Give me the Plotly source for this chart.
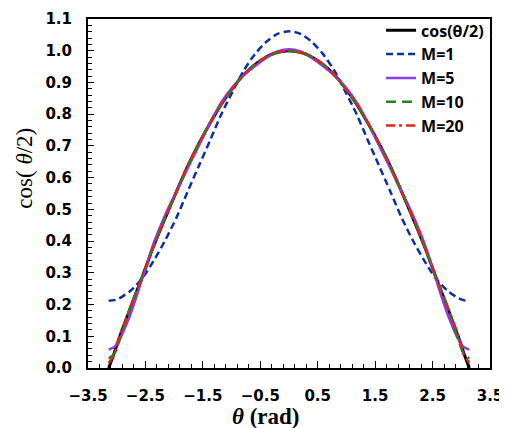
import plotly.graph_objects as go

# theta grid (rad)
theta = [-3.14, -3.04, -2.95, -2.75, -2.55, -2.36, -2.16, -1.96, -1.77, -1.57, -1.37, -1.18,
         -0.98, -0.79, -0.59, -0.39, -0.20, 0.00, 0.20, 0.39, 0.59, 0.79, 0.98, 1.18, 1.37,
         1.57, 1.77, 1.96, 2.16, 2.36, 2.55, 2.75, 2.95, 3.04, 3.14]

cos_half = [0.000, 0.049, 0.098, 0.195, 0.290, 0.383, 0.471, 0.556, 0.634, 0.707, 0.773, 0.831,
            0.882, 0.924, 0.957, 0.981, 0.995, 1.000, 0.995, 0.981, 0.957, 0.924, 0.882, 0.831,
            0.773, 0.707, 0.634, 0.556, 0.471, 0.383, 0.290, 0.195, 0.098, 0.049, 0.000]

m1 = [0.212, 0.214, 0.220, 0.245, 0.284, 0.337, 0.401, 0.474, 0.554, 0.637, 0.719, 0.799,
      0.872, 0.937, 0.990, 1.029, 1.053, 1.061, 1.053, 1.029, 0.990, 0.937, 0.872, 0.799,
      0.719, 0.637, 0.554, 0.474, 0.401, 0.337, 0.284, 0.245, 0.220, 0.214, 0.212]

m5 = [0.058, 0.066, 0.090, 0.175, 0.285, 0.392, 0.481, 0.556, 0.627, 0.701, 0.774, 0.837,
      0.886, 0.922, 0.952, 0.978, 0.998, 1.005, 0.998, 0.978, 0.952, 0.922, 0.886, 0.837,
      0.774, 0.701, 0.627, 0.556, 0.481, 0.392, 0.285, 0.175, 0.090, 0.066, 0.058]

m10 = [0.030, 0.046, 0.088, 0.199, 0.289, 0.382, 0.472, 0.556, 0.633, 0.707, 0.774, 0.831,
       0.881, 0.924, 0.958, 0.981, 0.994, 0.999, 0.994, 0.981, 0.958, 0.924, 0.881, 0.831,
       0.774, 0.707, 0.633, 0.556, 0.472, 0.382, 0.289, 0.199, 0.088, 0.046, 0.030]

m20 = [0.016, 0.044, 0.100, 0.195, 0.290, 0.383, 0.471, 0.556, 0.634, 0.707, 0.773, 0.831,
       0.882, 0.924, 0.957, 0.981, 0.995, 1.000, 0.995, 0.981, 0.957, 0.924, 0.882, 0.831,
       0.773, 0.707, 0.634, 0.556, 0.471, 0.383, 0.290, 0.195, 0.100, 0.044, 0.016]

series = [
    ("cos(θ/2)", cos_half, "#000000", "solid", 3),
    ("M=1", m1, "#0b2fa6", "7px,4px", 2.5),
    ("M=5", m5, "#8a3cf2", "solid", 2.5),
    ("M=10", m10, "#1b8a1b", "10px,6px", 2.5),
    ("M=20", m20, "#e2231a", "9px,4px,3px,4px", 2.5),
]

fig = go.Figure()
for name, vals, color, dash, w in series:
    fig.add_trace(go.Scatter(x=theta, y=vals, mode="lines", name=name,
                             line=dict(color=color, dash=dash, width=w, shape="spline", smoothing=0.8)))

tickfont = dict(family="DejaVu Sans", size=15, color="black", weight="bold")

fig.update_layout(
    width=499, height=420,
    margin=dict(l=80, r=17, t=11, b=60, autoexpand=False),
    paper_bgcolor="white", plot_bgcolor="white",
    showlegend=True,
    legend=dict(x=0.729, y=1.016, xanchor="left", yanchor="top",
                bgcolor="rgba(0,0,0,0)",
                font=dict(family="Open Sans", size=16, color="black", weight="bold"),
                itemwidth=30, tracegroupgap=0),
    xaxis=dict(range=[-3.5, 3.5], tick0=-3.5, dtick=1, tickformat=".1f",
               ticks="inside", ticklen=7, tickwidth=1.2, tickcolor="black",
               minor=dict(dtick=0.2, tick0=-3.5, ticks="inside", ticklen=4, tickcolor="black"),
               showline=True, linecolor="black", linewidth=2, mirror=True,
               showgrid=False, zeroline=False, tickfont=tickfont, ticklabelstandoff=13),
    yaxis=dict(range=[0, 1.1], tick0=0, dtick=0.1, tickformat=".1f",
               ticks="inside", ticklen=6, tickwidth=1.2, tickcolor="black",
               minor=dict(dtick=0.02, ticks="inside", ticklen=4, tickcolor="black"),
               showline=True, linecolor="black", linewidth=2, mirror=True,
               showgrid=False, zeroline=False, tickfont=tickfont, ticklabelstandoff=11),
    annotations=[
        dict(text="<b><i>θ</i> (rad)</b>", xref="paper", yref="paper", x=0.443, y=-0.14,
             xanchor="center", yanchor="middle", showarrow=False,
             font=dict(family="Liberation Serif", size=23, color="black")),
        dict(text="cos( <i>θ</i>/2)", xref="paper", yref="paper", x=-0.16, y=0.573,
             xanchor="center", yanchor="middle", showarrow=False, textangle=-90,
             font=dict(family="Liberation Serif", size=23, color="black")),
    ],
)

fig.write_html("out.html")
